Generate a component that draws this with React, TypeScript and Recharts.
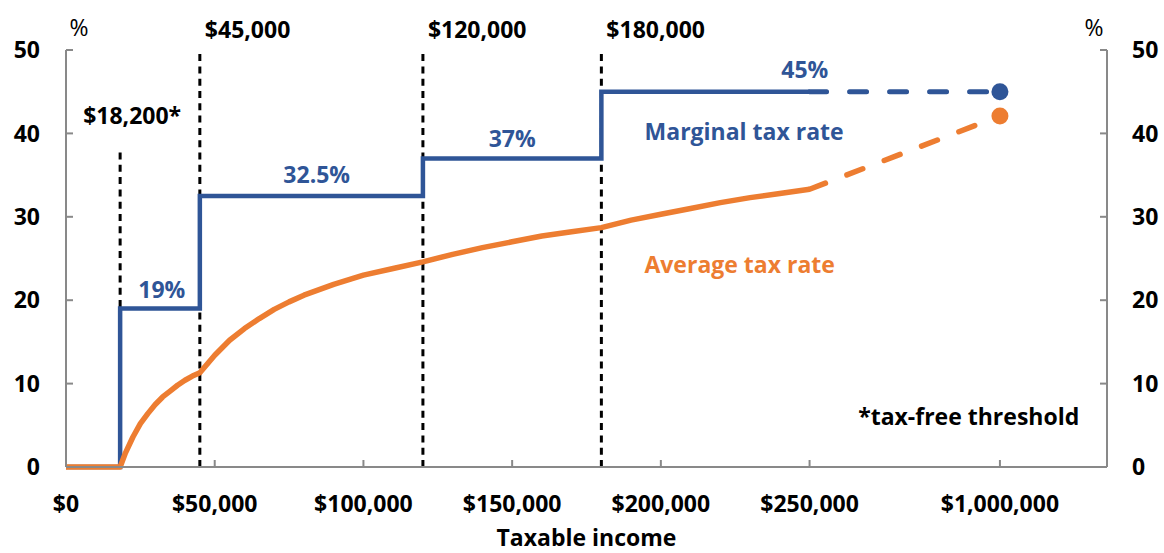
import React from "react";
import {
  LineChart,
  Line,
  XAxis,
  YAxis,
  ReferenceLine,
  ReferenceDot,
  Label,
} from "recharts";

const FONT = "'Open Sans', Lato, sans-serif";
const BLUE = "#2F5597";
const ORANGE = "#ED7D31";
const AXIS = "#898989";
const FS = 23;

// x axis is broken after $250,000; $1,000,000 sits at this axis position
const BREAK_POS = 314000;
const toPos = (income: number) => (income <= 250000 ? income : BREAK_POS);

// marginal tax rate schedule
const bracketStarts = [0, 18200, 45000, 120000, 180000, 250000];
const marginalRates = [0, 19, 32.5, 37, 45, 45];

// average tax rate
const avgIncomes = [
  0, 18200, 20000, 22500, 25000, 27500, 30000, 32500, 35000, 37500, 40000,
  42500, 45000, 50000, 55000, 60000, 65000, 70000, 75000, 80000, 90000,
  100000, 110000, 120000, 130000, 140000, 150000, 160000, 170000, 180000,
  190000, 200000, 210000, 220000, 230000, 240000, 250000,
];
const avgRates = [
  0, 0, 1.7, 3.6, 5.2, 6.4, 7.5, 8.4, 9.1, 9.8, 10.4, 10.9, 11.3, 13.4, 15.2,
  16.6, 17.8, 18.9, 19.8, 20.6, 21.9, 23.0, 23.8, 24.6, 25.5, 26.3, 27.0,
  27.7, 28.2, 28.7, 29.6, 30.3, 31.0, 31.7, 32.3, 32.8, 33.3,
];

// extension to $1,000,000 (dashed)
const extIncomes = [250000, 1000000];
const extMarginal = [45, 45];
const extAverage = [33.3, 42.1];

const xTickIncomes = [0, 50000, 100000, 150000, 200000, 250000, 1000000];
const xTickLabels = [
  "$0",
  "$50,000",
  "$100,000",
  "$150,000",
  "$200,000",
  "$250,000",
  "$1,000,000",
];
const yTicks = [0, 10, 20, 30, 40, 50];

const thresholds = [18200, 45000, 120000, 180000];
const thresholdLabels = ["$18,200*", "$45,000", "$120,000", "$180,000"];
const thresholdTops = [38, 50, 50, 50];

const annotations = [
  { text: "19%", x: 32200, y: 21.2, color: BLUE },
  { text: "32.5%", x: 84300, y: 35, color: BLUE },
  { text: "37%", x: 150000, y: 39.4, color: BLUE },
  { text: "45%", x: 248400, y: 47.6, color: BLUE },
  { text: "Marginal tax rate", x: 228000, y: 40.2, color: BLUE },
  { text: "Average tax rate", x: 226500, y: 24.2, color: ORANGE },
  { text: "*tax-free threshold", x: 303500, y: 6, color: "#000" },
];

const marginalData = bracketStarts.map((x, i) => ({ pos: toPos(x), v: marginalRates[i] }));
const averageData = avgIncomes.map((x, i) => ({ pos: toPos(x), v: avgRates[i] }));
const extMarginalData = extIncomes.map((x, i) => ({ pos: toPos(x), v: extMarginal[i] }));
const extAverageData = extIncomes.map((x, i) => ({ pos: toPos(x), v: extAverage[i] }));
const xTickPos = xTickIncomes.map(toPos);

const textStyle = { fontFamily: FONT, fontWeight: 700, fontSize: FS };
const pctStyle = { fontFamily: FONT, fontWeight: 400, fontSize: 23 };

const endDot = (color: string) => (props: any) =>
  props.index === 1 ? (
    <circle key={`dot-${props.index}`} cx={props.cx} cy={props.cy} r={8.5} fill={color} />
  ) : (
    <g key={`dot-${props.index}`} />
  );

export default function App() {
  return (
    <div style={{ position: "absolute", left: 0, top: 0 }}>
      <LineChart
        width={1164}
        height={553}
        margin={{ top: 50, right: 0, bottom: 0, left: 0 }}
      >
        <XAxis
          type="number"
          dataKey="pos"
          domain={[0, 350000]}
          ticks={xTickPos}
          interval={0}
          tickFormatter={(v: number) => xTickLabels[xTickPos.indexOf(v)]}
          tickSize={-7}
          tickMargin={36}
          stroke={AXIS}
          strokeWidth={2}
          height={86}
          tick={{ ...textStyle, fill: "#000" }}
        >
          <Label
            content={(p: any) => (
              <text
                x={p.viewBox.x + p.viewBox.width / 2}
                y={546}
                textAnchor="middle"
                fill="#000"
                style={textStyle}
              >
                Taxable income
              </text>
            )}
          />
        </XAxis>
        <YAxis
          yAxisId="left"
          domain={[0, 50]}
          ticks={yTicks}
          interval={0}
          width={66}
          tickSize={-7}
          tickMargin={33}
          stroke={AXIS}
          strokeWidth={2}
          tick={{ ...textStyle, fill: "#000" }}
        >
          <Label
            content={(p: any) => (
              <text
                x={p.viewBox.x + p.viewBox.width + 13}
                y={36}
                textAnchor="middle"
                fill="#000"
                style={pctStyle}
              >
                %
              </text>
            )}
          />
        </YAxis>
        <YAxis
          yAxisId="right"
          orientation="right"
          domain={[0, 50]}
          ticks={yTicks}
          interval={0}
          width={57}
          tickSize={-7}
          tickMargin={32}
          stroke={AXIS}
          strokeWidth={2}
          tick={{ ...textStyle, fill: "#000", textAnchor: "start" }}
        >
          <Label
            content={(p: any) => (
              <text
                x={p.viewBox.x - 13}
                y={36}
                textAnchor="middle"
                fill="#000"
                style={pctStyle}
              >
                %
              </text>
            )}
          />
        </YAxis>

        {thresholds.map((t, i) => (
          <ReferenceLine
            key={t}
            yAxisId="left"
            segment={[
              { x: t, y: 0 },
              { x: t, y: thresholdTops[i] },
            ]}
            stroke="#000"
            strokeWidth={3}
            strokeDasharray="7 5.3"
          >
            <Label
              content={(p: any) => (
                <text
                  x={i === 0 ? p.viewBox.x - 37 : p.viewBox.x + 5}
                  y={i === 0 ? p.viewBox.y - 26 : p.viewBox.y - 12}
                  textAnchor="start"
                  fill="#000"
                  style={textStyle}
                >
                  {thresholdLabels[i]}
                </text>
              )}
            />
          </ReferenceLine>
        ))}

        {/* invisible series so the right axis gets its ticks */}
        <Line
          yAxisId="right"
          data={extMarginalData}
          dataKey="v"
          stroke="none"
          dot={false}
          activeDot={false}
          isAnimationActive={false}
        />
        <Line
          yAxisId="left"
          data={marginalData}
          dataKey="v"
          type="stepAfter"
          stroke={BLUE}
          strokeWidth={4.5}
          dot={false}
          isAnimationActive={false}
        />
        <Line
          yAxisId="left"
          data={extMarginalData}
          dataKey="v"
          type="linear"
          stroke={BLUE}
          strokeWidth={5}
          strokeDasharray="17 23"
          strokeLinecap="round"
          dot={endDot(BLUE)}
          isAnimationActive={false}
        />
        <Line
          yAxisId="left"
          data={averageData}
          dataKey="v"
          type="linear"
          stroke={ORANGE}
          strokeWidth={5.5}
          strokeLinejoin="round"
          dot={false}
          isAnimationActive={false}
        />
        <Line
          yAxisId="left"
          data={extAverageData}
          dataKey="v"
          type="linear"
          stroke={ORANGE}
          strokeWidth={5.5}
          strokeDasharray="17 23"
          strokeLinecap="round"
          dot={endDot(ORANGE)}
          isAnimationActive={false}
        />

        {annotations.map((a) => (
          <ReferenceDot
            key={a.text}
            yAxisId="left"
            x={a.x}
            y={a.y}
            r={0}
            fill="none"
            stroke="none"
            label={{
              value: a.text,
              position: "center",
              fill: a.color,
              ...textStyle,
            }}
          />
        ))}
      </LineChart>
    </div>
  );
}
